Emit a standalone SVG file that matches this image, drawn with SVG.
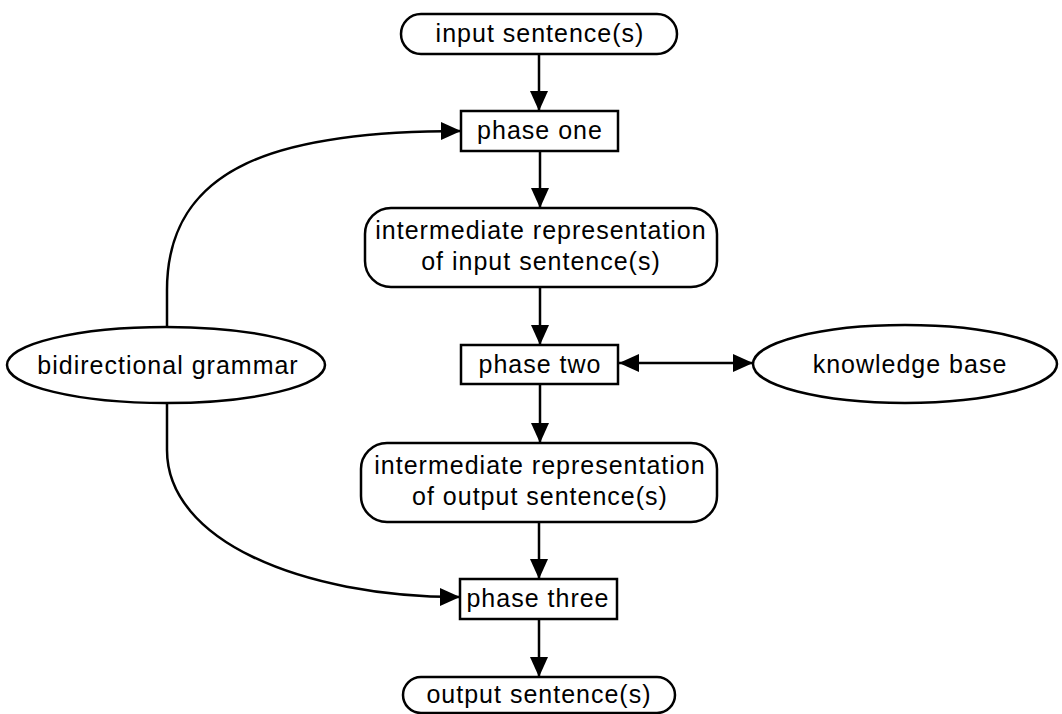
<svg xmlns="http://www.w3.org/2000/svg" width="1062" height="714" viewBox="0 0 1062 714">
<style>
.s{fill:#fff;stroke:#000;stroke-width:2.5}
.t{font-family:"Liberation Sans",Arial,sans-serif;font-size:25px;letter-spacing:1px;text-anchor:middle;fill:#000}
.c{fill:none;stroke:#000;stroke-width:2.5}
</style>
<defs>
<marker id="ah" markerUnits="userSpaceOnUse" markerWidth="22" markerHeight="20" refX="20" refY="9" orient="auto-start-reverse" viewBox="0 0 22 20">
<path d="M0,0 L20,9 L0,18 z" fill="#000"/>
</marker>
</defs>
<rect width="1062" height="714" fill="#fff"/>
<g id="input">
<rect class="s" x="401" y="14" width="276" height="40" rx="20"/>
<text class="t" x="540" y="42">input sentence(s)</text>
</g>
<g id="phase1">
<rect class="s" x="461" y="111" width="157" height="40"/>
<text class="t" x="540" y="139">phase one</text>
</g>
<g id="ir1">
<rect class="s" x="365" y="208" width="352" height="79" rx="26"/>
<text class="t" x="541" y="239">intermediate representation</text>
<text class="t" x="541" y="270">of input sentence(s)</text>
</g>
<g id="phase2">
<rect class="s" x="461" y="345" width="157" height="39"/>
<text class="t" x="540" y="373">phase two</text>
</g>
<g id="kb">
<ellipse class="s" cx="905" cy="364" rx="152" ry="39"/>
<text class="t" x="910" y="373">knowledge base</text>
</g>
<g id="grammar">
<ellipse class="s" cx="166" cy="365" rx="159" ry="38"/>
<text class="t" x="168" y="374">bidirectional grammar</text>
</g>
<g id="ir2">
<rect class="s" x="361" y="443" width="356" height="79" rx="26"/>
<text class="t" x="540" y="474">intermediate representation</text>
<text class="t" x="540" y="505">of output sentence(s)</text>
</g>
<g id="phase3">
<rect class="s" x="460" y="579" width="157" height="40"/>
<text class="t" x="538" y="607">phase three</text>
</g>
<g id="output">
<rect class="s" x="403" y="677" width="272" height="36" rx="18"/>
<text class="t" x="539" y="703">output sentence(s)</text>
</g>
<g id="connectors">
<path class="c" d="M539,54 L539,111" marker-end="url(#ah)"/>
<path class="c" d="M540,151 L540,208" marker-end="url(#ah)"/>
<path class="c" d="M540,287 L540,345" marker-end="url(#ah)"/>
<path class="c" d="M540,384 L540,443" marker-end="url(#ah)"/>
<path class="c" d="M539,522 L539,579" marker-end="url(#ah)"/>
<path class="c" d="M539,619 L539,677" marker-end="url(#ah)"/>
<path class="c" d="M619,363 L753,363" marker-start="url(#ah)" marker-end="url(#ah)"/>
<path class="c" d="M167,327 L167,290 C167,165 280,131 461,131" marker-end="url(#ah)"/>
<path class="c" d="M167,403 L167,450 C167,540 300,597 460,597" marker-end="url(#ah)"/>
</g>
</svg>
